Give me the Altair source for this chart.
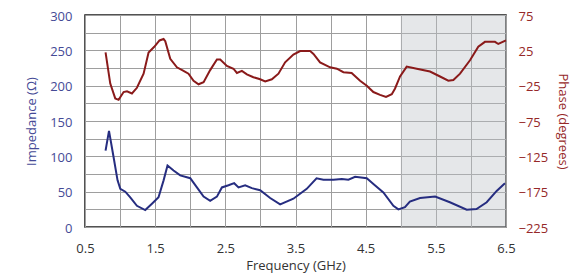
import altair as alt
import pandas as pd

# Impedance (Ohm) trace
imp_freq = [0.793, 0.842, 0.907, 0.964, 1.003, 1.074, 1.145, 1.24, 1.359, 1.454,
            1.548, 1.62, 1.676, 1.762, 1.857, 2.0, 2.095, 2.19, 2.284, 2.38,
            2.451, 2.545, 2.626, 2.688, 2.783, 2.878, 2.996, 3.139, 3.281, 3.47,
            3.66, 3.80, 3.898, 4.04, 4.16, 4.254, 4.35, 4.516, 4.61, 4.752,
            4.895, 4.966, 5.06, 5.13, 5.275, 5.49, 5.70, 5.94, 6.08, 6.225,
            6.367, 6.485]
imp_vals = [108, 136, 99, 66, 54, 50, 42, 30, 24, 33,
            42, 66, 87, 80, 73, 69, 56, 43, 37, 43,
            56, 59, 62, 56, 59, 55, 52, 41, 32, 40,
            54, 69, 67, 67, 68, 67, 71, 69, 61, 49,
            30, 25, 28, 36, 41, 43, 35, 24.5, 25.5, 35,
            51, 62]

# Phase (degrees) trace
ph_freq = [0.793, 0.86, 0.931, 0.979, 1.05, 1.098, 1.169, 1.24, 1.335, 1.406,
           1.487, 1.562, 1.62, 1.644, 1.715, 1.81, 1.904, 1.975, 2.047, 2.118,
           2.19, 2.284, 2.38, 2.427, 2.522, 2.616, 2.665, 2.736, 2.807, 2.90,
           2.996, 3.068, 3.163, 3.257, 3.352, 3.47, 3.566, 3.708, 3.756, 3.85,
           3.993, 4.089, 4.183, 4.30, 4.42, 4.516, 4.61, 4.705, 4.79, 4.872,
           4.919, 4.99, 5.085, 5.228, 5.417, 5.56, 5.678, 5.75, 5.845, 5.987,
           6.105, 6.20, 6.343, 6.39, 6.5]
ph_vals = [22, -22, -43, -45, -34, -33, -36, -28, -8, 22,
           30, 39, 41, 38, 13, 1, -4, -8, -18, -23,
           -20, -3, 12, 12, 3, -1, -7, -4, -9, -13,
           -16, -19, -16, -8, 8, 19, 24, 24, 20, 8,
           1, -1, -6, -7, -18, -25, -34, -38, -41, -37,
           -29, -12, 2, -1, -5, -12, -18, -17, -8, 11,
           30, 37, 37, 34, 39]

shade_start = [5.0]
shade_end = [6.5]

x_ticks = [0.5 + 0.5 * i for i in range(13)]
imp_ticks = [25 * i for i in range(13)]
ph_ticks = [-225 + 25 * i for i in range(13)]

FONT = "Open Sans"
BLUE_LINE = "#262d80"
RED_LINE = "#8a1a1a"
BLUE_TXT = "#454a96"
RED_TXT = "#962828"

imp_df = pd.DataFrame({"freq": imp_freq, "imp": imp_vals})
ph_df = pd.DataFrame({"freq": ph_freq, "phase": ph_vals})
shade_df = pd.DataFrame({"start": shade_start, "end": shade_end})

x_scale = alt.Scale(domain=[0.5, 6.5], nice=False, zero=False)
x_axis = alt.Axis(
    values=x_ticks, title="Frequency (GHz)", grid=True, ticks=False,
    labelExpr="(datum.value * 2) % 2 == 1 ? format(datum.value, '.1f') : ''",
    labelPadding=15, titlePadding=4, labelColor="#333333", titleColor="#333333",
    domain=False, labelFlush=False,
)

shade = alt.Chart(shade_df).mark_rect(color="#bfc2c8", opacity=0.4).encode(
    x=alt.X("start:Q", scale=x_scale, axis=x_axis),
    x2="end:Q",
)

imp_line = alt.Chart(imp_df).mark_line(color=BLUE_LINE, strokeWidth=2).encode(
    x=alt.X("freq:Q", scale=x_scale, axis=x_axis),
    y=alt.Y("imp:Q", scale=alt.Scale(domain=[0, 300], nice=False),
            axis=alt.Axis(orient="left", values=imp_ticks, title="Impedance (Ω)",
                          labelExpr="datum.value % 50 == 0 ? datum.label : ''",
                          ticks=False, domain=False, grid=True,
                          labelColor=BLUE_TXT, titleColor=BLUE_TXT,
                          labelPadding=13, titlePadding=11, labelOffset=1)),
)

ph_line = alt.Chart(ph_df).mark_line(color=RED_LINE, strokeWidth=2).encode(
    x=alt.X("freq:Q", scale=x_scale, axis=x_axis),
    y=alt.Y("phase:Q", scale=alt.Scale(domain=[-225, 75], nice=False),
            axis=alt.Axis(orient="right", values=ph_ticks, title="Phase (degrees)",
                          labelExpr="(datum.value + 225) % 50 == 0 ? datum.label : ''",
                          ticks=False, domain=False, grid=False,
                          labelColor=RED_TXT, titleColor=RED_TXT,
                          labelPadding=12, titlePadding=8, labelOffset=1)),
)

chart = alt.layer(shade, imp_line, ph_line).resolve_scale(y="independent").properties(
    width=421, height=212,
    autosize=alt.AutoSizeParams(type="none"),
    padding={"left": 77, "top": 7, "right": 66, "bottom": 48},
).configure_axis(
    labelFont=FONT, titleFont=FONT, labelFontSize=13, titleFontSize=13,
    labelFontWeight="normal", titleFontWeight="normal",
    gridColor="#9e9e9e", gridWidth=1, gridOpacity=1,
).configure_view(
    stroke="#1a1a1a", strokeWidth=1.5,
)

chart.save("out.html", embed_options={"renderer": "svg", "actions": False})
